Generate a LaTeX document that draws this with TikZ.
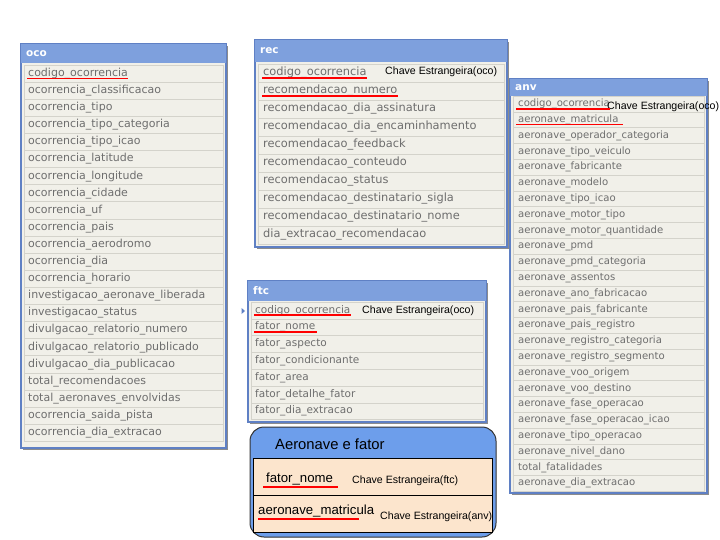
\documentclass[tikz,border=0pt]{standalone}
\usepackage{fontspec}
\setmainfont{DejaVu Sans}
\newfontfamily\arialfont{Liberation Sans}
\definecolor{hdrblue}{HTML}{7EA0DD}
\definecolor{frameblue}{HTML}{5F80C4}
\definecolor{rowfill}{HTML}{F1F0E9}
\definecolor{rowline}{HTML}{D4D3CB}
\definecolor{fieldgray}{HTML}{6E6E6E}
\definecolor{boxblue}{HTML}{6D9EEB}
\definecolor{peach}{HTML}{FCE5CD}
\begin{document}
\begin{tikzpicture}[x=1pt,y=-1pt,
  shadowbox/.style={fill=black!45},
  frame/.style={draw=frameblue,line width=1.6pt,fill=rowfill},
  header/.style={fill=hdrblue},
  rowcell/.style={draw=rowline,fill=rowfill,line width=0.6pt},
  tname/.style={anchor=west,inner sep=0pt,text=white,font=\bfseries\fontsize{10.5}{11}\selectfont},
  field/.style={anchor=west,inner sep=0pt,text=fieldgray},
  fkey/.style={anchor=west,inner sep=0pt,font=\arialfont\fontsize{10.6}{11}\selectfont},
  pkline/.style={red,line width=1.6pt}]
\useasboundingbox[fill=white] (0,0) rectangle (720,540);

% oco
\fill[shadowbox] (23,46) rectangle (228,450);
\draw[frame] (21,44) rectangle (226,448);
\fill[header] (21,44) rectangle (226,63);
\node[tname] (oco) at (26,53.5) {oco};
\foreach \f [count=\i from 0] in {codigo\_ocorrencia,ocorrencia\_classificacao,ocorrencia\_tipo,
  ocorrencia\_tipo\_categoria,ocorrencia\_tipo\_icao,ocorrencia\_latitude,ocorrencia\_longitude,
  ocorrencia\_cidade,ocorrencia\_uf,ocorrencia\_pais,ocorrencia\_aerodromo,ocorrencia\_dia,
  ocorrencia\_horario,investigacao\_aeronave\_liberada,investigacao\_status,
  divulgacao\_relatorio\_numero,divulgacao\_relatorio\_publicado,divulgacao\_dia\_publicacao,
  total\_recomendacoes,total\_aeronaves\_envolvidas,ocorrencia\_saida\_pista,ocorrencia\_dia\_extracao}{
  \draw[rowcell] (24,65+17.1*\i) rectangle (223,82.1+17.1*\i);
  \node[field,font=\fontsize{11}{11}\selectfont] (oco-\i) at (28,73.55+17.1*\i) {\f};
}
\draw[pkline] ([xshift=-1pt,yshift=0.8pt]oco-0.south west) -- ([yshift=0.8pt]oco-0.south east);

% rec
\fill[shadowbox] (257,42) rectangle (509,249);
\draw[frame] (255,40) rectangle (507,247);
\fill[header] (255,40) rectangle (507,62);
\node[tname] (rec) at (260,51) {rec};
\foreach \f [count=\i from 0] in {codigo\_ocorrencia,recomendacao\_numero,recomendacao\_dia\_assinatura,
  recomendacao\_dia\_encaminhamento,recomendacao\_feedback,recomendacao\_conteudo,
  recomendacao\_status,recomendacao\_destinatario\_sigla,recomendacao\_destinatario\_nome,
  dia\_extracao\_recomendacao}{
  \draw[rowcell] (258,64+18*\i) rectangle (504,82+18*\i);
  \node[field,font=\fontsize{11.4}{12}\selectfont] (rec-\i) at (263,73+18*\i) {\f};
}
\node[fkey] (rec-fk) at (385,72) {Chave Estrangeira(oco)};
\draw[pkline] ([xshift=-1pt,yshift=0.8pt]rec-0.south west) -- ([yshift=0.8pt]rec-0.south east);
\draw[pkline] ([xshift=-1pt,yshift=0.8pt]rec-1.south west) -- ([yshift=0.8pt]rec-1.south east);

% anv
\fill[shadowbox] (512,81) rectangle (709,495);
\draw[frame] (510,79) rectangle (707,493);
\fill[header] (510,79) rectangle (707,96);
\node[tname] (anv) at (515,87.5) {anv};
\foreach \f [count=\i from 0] in {codigo\_ocorrencia,aeronave\_matricula,aeronave\_operador\_categoria,
  aeronave\_tipo\_veiculo,aeronave\_fabricante,aeronave\_modelo,aeronave\_tipo\_icao,
  aeronave\_motor\_tipo,aeronave\_motor\_quantidade,aeronave\_pmd,aeronave\_pmd\_categoria,
  aeronave\_assentos,aeronave\_ano\_fabricacao,aeronave\_pais\_fabricante,aeronave\_pais\_registro,
  aeronave\_registro\_categoria,aeronave\_registro\_segmento,aeronave\_voo\_origem,
  aeronave\_voo\_destino,aeronave\_fase\_operacao,aeronave\_fase\_operacao\_icao,
  aeronave\_tipo\_operacao,aeronave\_nivel\_dano,total\_fatalidades,aeronave\_dia\_extracao}{
  \draw[rowcell] (513,96.2+15.8*\i) rectangle (704,112+15.8*\i);
  \node[field,font=\fontsize{10.1}{11}\selectfont] (anv-\i) at (518,104.1+15.8*\i) {\f};
}
\node[fkey] (anv-fk) at (607,107) {Chave Estrangeira(oco)};
\draw[pkline] ([xshift=-2pt,yshift=0.6pt]anv-0.south west) -- ([yshift=0.6pt]anv-0.south east);
\draw[pkline] ([xshift=-2pt,yshift=0.6pt]anv-1.south west) -- ([xshift=4pt,yshift=0.6pt]anv-1.south east);

% ftc
\fill[shadowbox] (250,283) rectangle (488,424);
\draw[frame] (248,281) rectangle (486,422);
\fill[header] (248,281) rectangle (486,301);
\node[tname] (ftc) at (253,291) {ftc};
\foreach \f [count=\i from 0] in {codigo\_ocorrencia,fator\_nome,fator\_aspecto,
  fator\_condicionante,fator\_area,fator\_detalhe\_fator,fator\_dia\_extracao}{
  \draw[rowcell] (251,302+16.8*\i) rectangle (483,318.8+16.8*\i);
  \node[field,font=\fontsize{10.5}{11}\selectfont] (ftc-\i) at (255,310.4+16.8*\i) {\f};
}
\node[fkey] (ftc-fk) at (362,311) {Chave Estrangeira(oco)};
\draw[pkline] ([xshift=-1pt,yshift=0.6pt]ftc-0.south west) -- ([yshift=0.6pt]ftc-0.south east);
\draw[pkline] ([xshift=-1pt,yshift=0.6pt]ftc-1.south west) -- ([xshift=2pt,yshift=0.6pt]ftc-1.south east);
\fill[frameblue] (241.5,308) -- (245,311) -- (241.5,314) -- cycle;

% Aeronave e fator
\draw[draw=black!80,fill=boxblue,line width=1pt,rounded corners=14pt] (250,427) rectangle (496,537);
\node[anchor=west,inner sep=0pt,font=\arialfont\fontsize{14.8}{15}\selectfont] (aef) at (275,444) {Aeronave e fator};
\draw[fill=peach,line width=1pt] (253,458) rectangle (492,532);
\draw[line width=1pt] (253,495) -- (492,495);
\node[anchor=west,inner sep=0pt,font=\arialfont\fontsize{13.2}{14}\selectfont] (aef-0) at (266,479) {fator\_nome};
\node[fkey] (aef-fk0) at (352,481) {Chave Estrangeira(ftc)};
\node[anchor=west,inner sep=0pt,font=\arialfont\fontsize{13.2}{14}\selectfont] (aef-1) at (258,511) {aeronave\_matricula};
\node[fkey] (aef-fk1) at (380,517) {Chave Estrangeira(anv)};
\draw[pkline] ([xshift=-3pt,yshift=-2pt]aef-0.south west) -- ([xshift=5pt,yshift=-2pt]aef-0.south east);
\draw[pkline] ([yshift=-2pt]aef-1.south west) -- ([xshift=-15pt,yshift=-2pt]aef-1.south east);
\end{tikzpicture}
\end{document}
